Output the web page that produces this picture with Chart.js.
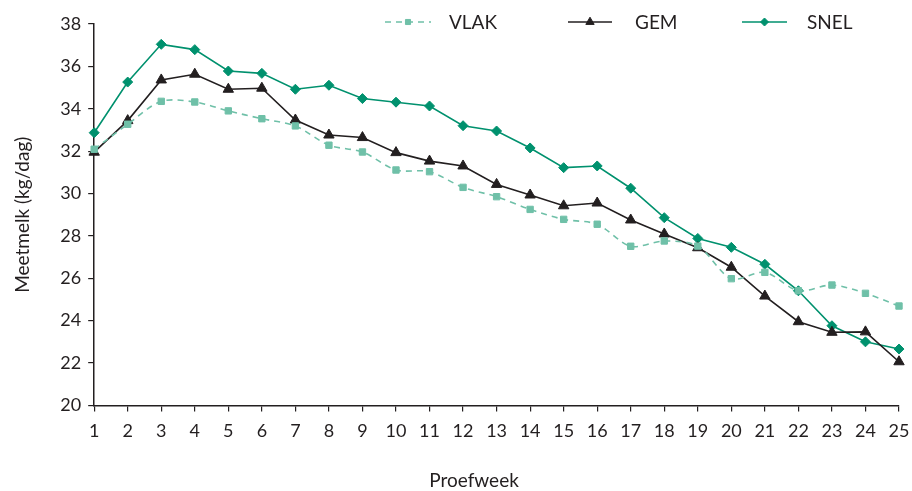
<!DOCTYPE html>
<html>
<head>
<meta charset="utf-8">
<script src="https://cdn.jsdelivr.net/npm/chart.js@4"></script>
<style>
html,body{margin:0;padding:0;background:#fff;}
#wrap{width:912px;height:491px;}
</style>
</head>
<body>
<div id="wrap"><canvas id="c"></canvas></div>
<script>
const weeks = ['1','2','3','4','5','6','7','8','9','10','11','12','13','14','15','16','17','18','19','20','21','22','23','24','25'];
const vlak = [32.09,33.27,34.35,34.32,33.90,33.53,33.19,32.28,31.96,31.11,31.03,30.29,29.85,29.25,28.78,28.55,27.51,27.76,27.52,25.98,26.28,25.41,25.68,25.29,24.69];
const gem  = [31.95,33.44,35.36,35.63,34.92,34.97,33.47,32.76,32.64,31.93,31.53,31.30,30.43,29.93,29.42,29.55,28.75,28.09,27.44,26.52,25.16,23.95,23.45,23.47,22.06];
const snel = [32.87,35.26,37.04,36.79,35.78,35.67,34.92,35.11,34.48,34.31,34.13,33.20,32.95,32.15,31.22,31.30,30.25,28.86,27.88,27.46,26.66,25.41,23.76,23.00,22.66];
const yTicks = [20,22,24,26,28,30,32,34,36,38];
const xTitle = 'Proefweek';
const yTitle = 'Meetmelk (kg/dag)';

const FONT = 'Lato, "Open Sans", sans-serif';
const INK = '#231f20';

const legendPlugin = {
  id: 'customLegend',
  afterDraw(chart) {
    const ctx = chart.ctx;
    const items = [
      {x0: 385, x1: 431, tx: 449},
      {x0: 568, x1: 612, tx: 635},
      {x0: 742, x1: 787, tx: 807}
    ];
    const y = 22;
    chart.data.datasets.forEach((ds, i) => {
      const it = items[i];
      ctx.save();
      ctx.strokeStyle = ds.borderColor;
      ctx.lineWidth = ds.borderWidth;
      ctx.setLineDash(ds.borderDash || []);
      ctx.beginPath();
      ctx.moveTo(it.x0, y);
      ctx.lineTo(it.x1, y);
      ctx.stroke();
      ctx.restore();
      ctx.save();
      ctx.fillStyle = ds.pointBackgroundColor;
      ctx.strokeStyle = ds.pointBorderColor;
      ctx.lineWidth = 1;
      Chart.helpers.drawPoint(ctx, {
        pointStyle: ds.pointStyle,
        radius: ds.pointRadius * 0.8,
        borderWidth: 1,
        rotation: 0
      }, (it.x0 + it.x1) / 2, y);
      ctx.restore();
      ctx.save();
      ctx.fillStyle = INK;
      ctx.font = '19px ' + FONT;
      ctx.textBaseline = 'middle';
      ctx.fillText(ds.label, it.tx, y + 1);
      ctx.restore();
    });
    // x-axis title (placed as in the reference, left of the plot centre)
    ctx.save();
    ctx.fillStyle = INK;
    ctx.font = '19px ' + FONT;
    ctx.textAlign = 'center';
    ctx.textBaseline = 'middle';
    ctx.fillText(xTitle, 474, 481);
    ctx.restore();
  }
};

new Chart(document.getElementById('c'), {
  type: 'line',
  data: {
    labels: weeks,
    datasets: [
      {
        label: 'VLAK', data: vlak,
        borderColor: '#6fc0a8', backgroundColor: '#6fc0a8',
        pointBackgroundColor: '#6fc0a8', pointBorderColor: '#6fc0a8',
        borderWidth: 1.6, borderDash: [6, 5], tension: 0.3,
        pointStyle: 'rect', pointRadius: 4.5, pointBorderWidth: 1
      },
      {
        label: 'GEM', data: gem,
        borderColor: INK, backgroundColor: INK,
        pointBackgroundColor: INK, pointBorderColor: INK,
        borderWidth: 1.6, tension: 0,
        pointStyle: 'triangle', pointRadius: 6, pointBorderWidth: 1
      },
      {
        label: 'SNEL', data: snel,
        borderColor: '#00916e', backgroundColor: '#00916e',
        pointBackgroundColor: '#00916e', pointBorderColor: '#00916e',
        borderWidth: 1.6, tension: 0,
        pointStyle: 'rectRot', pointRadius: 5, pointBorderWidth: 1
      }
    ]
  },
  options: {
    responsive: true,
    maintainAspectRatio: false,
    animation: false,
    layout: {padding: {top: 24, right: 2, left: 11, bottom: 40}},
    plugins: {
      legend: {display: false},
      tooltip: {enabled: false}
    },
    scales: {
      x: {
        type: 'category',
        offset: false,
        afterFit(scale) { scale.paddingRight = 13; },
        grid: {display: true, drawOnChartArea: false, drawTicks: true, tickLength: 6, color: INK, lineWidth: 1.2},
        border: {display: true, color: INK, width: 1.5},
        ticks: {color: INK, font: {family: FONT, size: 18}, padding: 9, maxRotation: 0, autoSkip: false},
        title: {display: false, text: xTitle}
      },
      y: {
        min: 20, max: 38,
        afterBuildTicks(axis) { axis.ticks = yTicks.map(v => ({value: v})); },
        grid: {display: true, drawOnChartArea: false, drawTicks: true, tickLength: 6, color: INK, lineWidth: 1.2},
        border: {display: true, color: INK, width: 1.5},
        ticks: {color: INK, font: {family: FONT, size: 18}, padding: 7},
        title: {display: true, text: yTitle, color: INK, font: {family: FONT, size: 19}, padding: {top: 0, bottom: 19.5}}
      }
    }
  },
  plugins: [legendPlugin]
});
</script>
</body>
</html>
